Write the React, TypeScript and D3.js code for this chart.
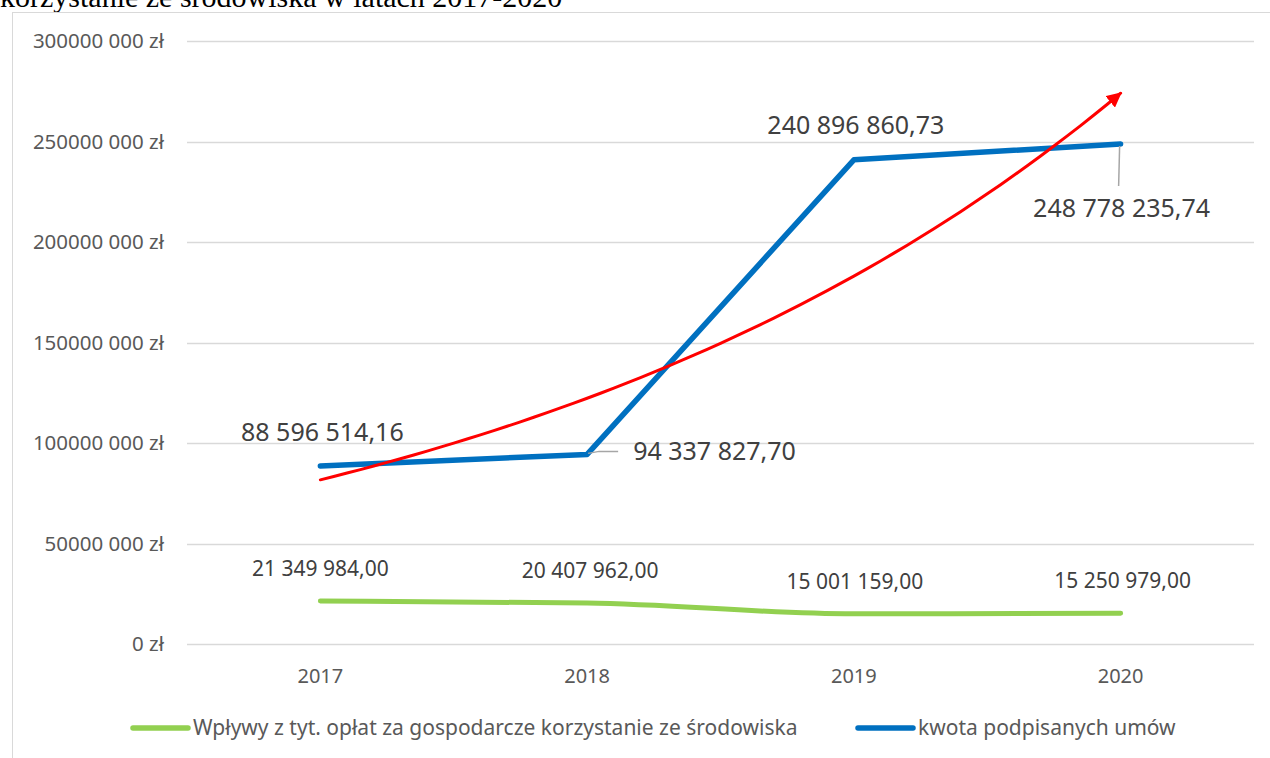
import { useEffect, useRef } from 'react';
import * as d3 from 'd3';

const years = ['2017', '2018', '2019', '2020'];
const oplaty = [21349984.0, 20407962.0, 15001159.0, 15250979.0];
const umowy = [88596514.16, 94337827.7, 240896860.73, 248778235.74];
const yTicks = [0, 50000000, 100000000, 150000000, 200000000, 250000000, 300000000];
const yTickLabels = ['0 zł', '50000 000 zł', '100000 000 zł', '150000 000 zł', '200000 000 zł', '250000 000 zł', '300000 000 zł'];
const oplatyLabels = ['21 349 984,00', '20 407 962,00', '15 001 159,00', '15 250 979,00'];
const umowyLabels = ['88 596 514,16', '94 337 827,70', '240 896 860,73', '248 778 235,74'];
const legendNames = ['Wpływy z tyt. opłat za gospodarcze korzystanie ze środowiska', 'kwota podpisanych umów'];

const GREEN = '#92D050';
const BLUE = '#0070C0';
const FONT = '"Noto Sans", "Open Sans", sans-serif';

function App() {
  const svgRef = useRef<SVGSVGElement | null>(null);

  useEffect(() => {
    const svg = d3.select(svgRef.current);
    svg.selectAll('*').remove();

    const left = 187;
    const right = 1254;
    const x = d3.scaleBand().domain(years).range([left, right]);
    const cx = (d: string) => (x(d) as number) + x.bandwidth() / 2;
    const y = d3.scaleLinear().domain([0, 300000000]).range([644, 41]);

    // title (cut off at the top of the page, as in the source)
    svg
      .append('text')
      .attr('x', 0)
      .attr('y', 7)
      .attr('font-family', '"Liberation Serif", "Times New Roman", serif')
      .attr('font-size', 30)
      .attr('fill', '#000')
      .text('korzystanie ze środowiska w latach 2017-2020');

    // chart frame
    svg
      .append('rect')
      .attr('x', 12.5)
      .attr('y', 12.5)
      .attr('width', 1400)
      .attr('height', 900)
      .attr('fill', 'none')
      .attr('stroke', '#d9d9d9');

    // grid
    svg
      .append('g')
      .selectAll('line')
      .data(yTicks)
      .enter()
      .append('line')
      .attr('x1', left)
      .attr('x2', right)
      .attr('y1', d => Math.round(y(d)) + 0.5)
      .attr('y2', d => Math.round(y(d)) + 0.5)
      .attr('stroke', '#d9d9d9')
      .attr('stroke-width', 1.3);

    svg
      .append('g')
      .selectAll('text')
      .data(yTicks)
      .enter()
      .append('text')
      .attr('x', 164)
      .attr('y', d => y(d))
      .attr('dy', '0.35em')
      .attr('text-anchor', 'end')
      .attr('font-family', FONT)
      .attr('font-size', 20.5)
      .attr('fill', '#595959')
      .text((d, i) => yTickLabels[i]);

    svg
      .append('g')
      .selectAll('text')
      .data(years)
      .enter()
      .append('text')
      .attr('x', d => cx(d))
      .attr('y', 683)
      .attr('text-anchor', 'middle')
      .attr('font-family', FONT)
      .attr('font-size', 20)
      .attr('fill', '#595959')
      .text(d => d);

    // green smoothed line
    const greenLine = d3
      .line<number>()
      .x((d, i) => cx(years[i]))
      .y(d => y(d))
      .curve(d3.curveMonotoneX);
    svg
      .append('path')
      .attr('d', greenLine(oplaty))
      .attr('fill', 'none')
      .attr('stroke', GREEN)
      .attr('stroke-width', 5)
      .attr('stroke-linecap', 'round')
      .attr('stroke-linejoin', 'round');

    // blue line
    const blueLine = d3
      .line<number>()
      .x((d, i) => cx(years[i]))
      .y(d => y(d));
    svg
      .append('path')
      .attr('d', blueLine(umowy))
      .attr('fill', 'none')
      .attr('stroke', BLUE)
      .attr('stroke-width', 5.5)
      .attr('stroke-linecap', 'round')
      .attr('stroke-linejoin', 'round');

    // exponential trendline of the blue series
    const lnY = umowy.map(v => Math.log(v));
    const idx = umowy.map((v, i) => i);
    const mx = d3.mean(idx) as number;
    const my = d3.mean(lnY) as number;
    const slope =
      (d3.sum(idx, i => (i - mx) * (lnY[i] - my)) as number) / (d3.sum(idx, i => (i - mx) * (i - mx)) as number);
    const icpt = my - slope * mx;
    const tScale = d3.scaleLinear().domain([0, 3]).range([cx(years[0]), cx(years[3])]);
    const tPts = d3.range(0, 3.0001, 0.05).map(t => [tScale(t), y(Math.exp(icpt + slope * t))] as [number, number]);

    const defs = svg.append('defs');
    defs
      .append('marker')
      .attr('id', 'arrow')
      .attr('viewBox', '0 0 10 10')
      .attr('refX', 9)
      .attr('refY', 5)
      .attr('markerWidth', 5)
      .attr('markerHeight', 5)
      .attr('orient', 'auto')
      .attr('markerUnits', 'strokeWidth')
      .append('path')
      .attr('d', 'M0,0 L10,5 L0,10 z')
      .attr('fill', '#FF0000');

    svg
      .append('path')
      .attr('d', d3.line()(tPts))
      .attr('fill', 'none')
      .attr('stroke', '#FF0000')
      .attr('stroke-width', 3)
      .attr('stroke-linecap', 'round')
      .attr('marker-end', 'url(#arrow)');

    // leader lines
    const p18 = [cx(years[1]), y(umowy[1])];
    svg
      .append('path')
      .attr('d', `M${p18[0] + 1},${p18[1] - 1} L${p18[0] + 12},${p18[1] - 3} L${p18[0] + 31},${p18[1] - 3}`)
      .attr('fill', 'none')
      .attr('stroke', '#a6a6a6')
      .attr('stroke-width', 1.5);
    const p20 = [cx(years[3]), y(umowy[3])];
    svg
      .append('line')
      .attr('x1', p20[0] - 1)
      .attr('y1', p20[1] + 2)
      .attr('x2', p20[0] - 2)
      .attr('y2', p20[1] + 42)
      .attr('stroke', '#a6a6a6')
      .attr('stroke-width', 1.5);

    // data labels - green
    svg
      .append('g')
      .selectAll('text')
      .data(oplaty)
      .enter()
      .append('text')
      .attr('x', (d, i) => cx(years[i]) + [0, 3, 1, 2][i])
      .attr('y', d => y(d) - 25)
      .attr('text-anchor', 'middle')
      .attr('font-family', FONT)
      .attr('font-size', 21)
      .attr('fill', '#404040')
      .text((d, i) => oplatyLabels[i]);

    // data labels - blue
    const blueOff = [
      { dx: 2, dy: -25, anchor: 'middle' },
      { dx: 46, dy: 6, anchor: 'start' },
      { dx: 2, dy: -26, anchor: 'middle' },
      { dx: 1, dy: 73, anchor: 'middle' },
    ];
    svg
      .append('g')
      .selectAll('text')
      .data(umowy)
      .enter()
      .append('text')
      .attr('x', (d, i) => cx(years[i]) + blueOff[i].dx)
      .attr('y', (d, i) => y(d) + blueOff[i].dy)
      .attr('text-anchor', (d, i) => blueOff[i].anchor)
      .attr('font-family', FONT)
      .attr('font-size', 25)
      .attr('fill', '#404040')
      .text((d, i) => umowyLabels[i]);

    // legend
    const legend = svg.append('g').attr('transform', 'translate(0, 728)');
    const legendX = [133, 858];
    const colors = [GREEN, BLUE];
    legendNames.forEach((name, i) => {
      legend
        .append('line')
        .attr('x1', legendX[i])
        .attr('x2', legendX[i] + 55)
        .attr('y1', 0)
        .attr('y2', 0)
        .attr('stroke', colors[i])
        .attr('stroke-width', 5.5)
        .attr('stroke-linecap', 'round');
      legend
        .append('text')
        .attr('x', legendX[i] + 60)
        .attr('y', 7)
        .attr('font-family', FONT)
        .attr('font-size', 21)
        .attr('fill', '#595959')
        .text(name);
    });
  }, []);

  return (
    <svg
      ref={svgRef}
      width={1270}
      height={758}
      style={{ position: 'absolute', left: 0, top: 0, background: '#fff' }}
    />
  );
}

export default App;
